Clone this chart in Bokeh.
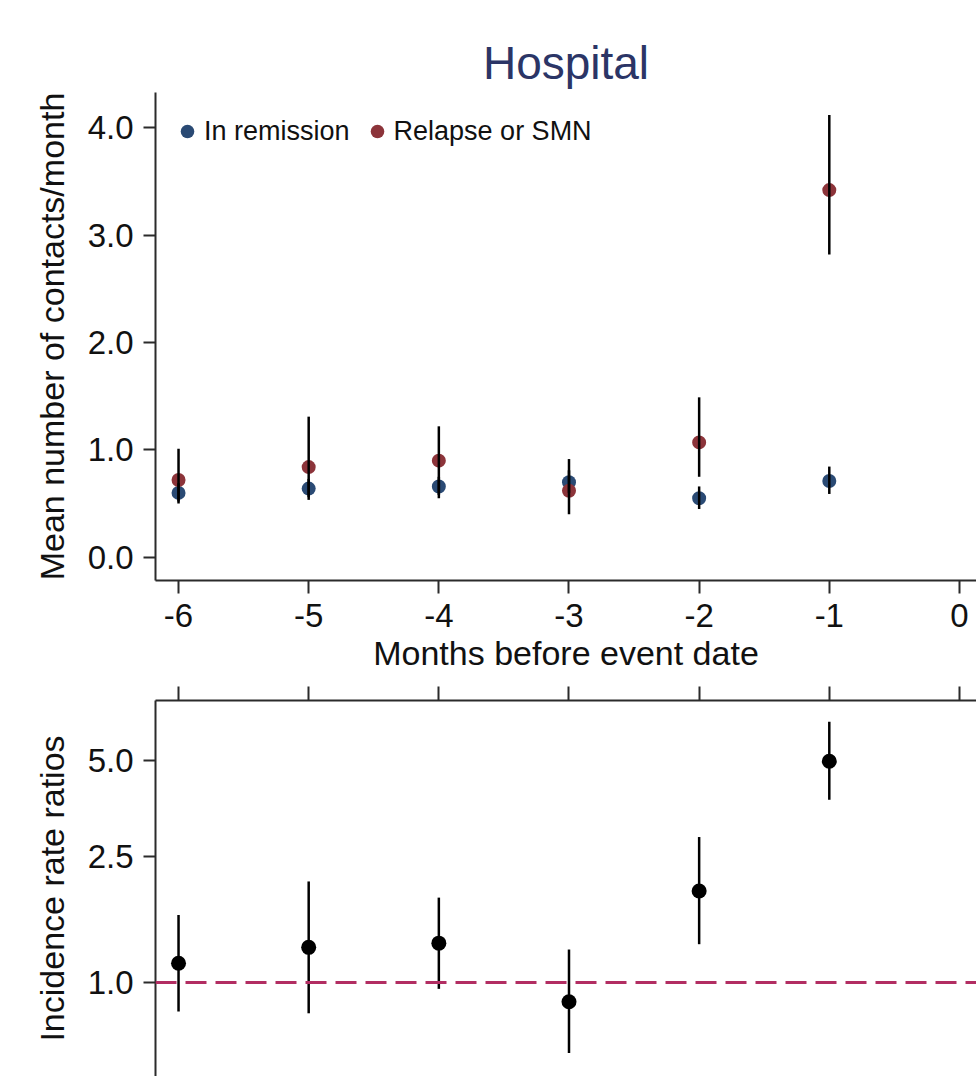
from bokeh.plotting import figure
from bokeh.layouts import column
from bokeh.models import (ColumnDataSource, Range1d, FixedTicker, NumeralTickFormatter,
                          Legend, LegendItem, Span, Title)
from bokeh.embed import file_html
from bokeh.resources import INLINE

# ---------------- data ----------------
months = [-6, -5, -4, -3, -2, -1]
x_ticks = [-6, -5, -4, -3, -2, -1, 0]
x_tick_labels = ["-6", "-5", "-4", "-3", "-2", "-1", "0"]

remission_mean = [0.60, 0.64, 0.66, 0.70, 0.55, 0.71]
remission_lo = [0.52, 0.56, 0.58, 0.60, 0.45, 0.59]
remission_hi = [0.69, 0.73, 0.75, 0.81, 0.66, 0.845]

relapse_mean = [0.72, 0.84, 0.90, 0.62, 1.07, 3.42]
relapse_lo = [0.50, 0.535, 0.55, 0.40, 0.75, 2.82]
relapse_hi = [1.01, 1.31, 1.22, 0.915, 1.49, 4.12]

irr = [1.15, 1.29, 1.33, 0.87, 1.94, 4.97]
irr_lo = [0.81, 0.80, 0.955, 0.60, 1.32, 3.76]
irr_hi = [1.63, 2.08, 1.85, 1.27, 2.87, 6.62]

top_y_ticks = [0.0, 1.0, 2.0, 3.0, 4.0]
irr_y_ticks = [1.0, 2.5, 5.0]
reference_irr = 1.0

series_names = ["In remission", "Relapse or SMN"]

FONT = "Liberation Sans"
BLUE = "#2a4a74"
RED = "#8c343a"
AXIS_COL = "#2b2b2b"

x_range = Range1d(-6.177, 0.131)


def style_axis(ax, tick_out):
    ax.axis_line_color = AXIS_COL
    ax.axis_line_width = 2
    ax.major_tick_line_color = AXIS_COL
    ax.major_tick_line_width = 2
    ax.major_tick_out = tick_out
    ax.major_tick_in = 0
    ax.minor_tick_line_color = None
    ax.major_label_text_font = FONT
    ax.major_label_text_font_size = "33px"
    ax.major_label_text_color = "#111111"
    ax.axis_label_text_font = FONT
    ax.axis_label_text_font_size = "34px"
    ax.axis_label_text_font_style = "normal"
    ax.axis_label_text_color = "#111111"


# ---------------- top panel ----------------
p1 = figure(width=976, height=680, x_range=x_range, y_range=Range1d(-0.216, 4.329),
            output_backend="svg", toolbar_location=None,
            min_border_left=155, min_border_right=0, min_border_top=92, min_border_bottom=100)
p1.outline_line_color = None
p1.xgrid.visible = False
p1.ygrid.visible = False

p1.title = Title(text="Hospital", align="center", text_font=FONT, text_font_size="46px",
                 text_font_style="normal", text_color="#2b3566", standoff=8)

src_r = ColumnDataSource(dict(x=months, y=remission_mean, lo=remission_lo, hi=remission_hi))
src_s = ColumnDataSource(dict(x=months, y=relapse_mean, lo=relapse_lo, hi=relapse_hi))

g_blue = p1.scatter("x", "y", source=src_r, size=14, fill_color=BLUE, line_color=None)
g_red = p1.scatter("x", "y", source=src_s, size=14, fill_color=RED, line_color=None)
p1.segment("x", "lo", "x", "hi", source=src_r, line_color="black", line_width=2.5)
p1.segment("x", "lo", "x", "hi", source=src_s, line_color="black", line_width=2.5)

legend = Legend(items=[LegendItem(label=series_names[0], renderers=[g_blue]),
                       LegendItem(label=series_names[1], renderers=[g_red])],
                location="top_left", orientation="horizontal",
                glyph_width=34, glyph_height=48, label_standoff=0, spacing=10,
                padding=0, margin=15, border_line_color=None, background_fill_alpha=0,
                label_text_font=FONT, label_text_font_size="27px", label_text_color="#111111")
p1.add_layout(legend)

style_axis(p1.xaxis[0], 13)
style_axis(p1.yaxis[0], 12)

p1.xaxis.ticker = FixedTicker(ticks=x_ticks)
p1.xaxis.major_label_overrides = {t: l for t, l in zip(x_ticks, x_tick_labels)}
p1.xaxis.axis_label = "Months before event date"
p1.xaxis.major_label_standoff = 10
p1.xaxis.axis_label_standoff = 4

p1.yaxis.ticker = FixedTicker(ticks=top_y_ticks)
p1.yaxis.formatter = NumeralTickFormatter(format="0.0")
p1.yaxis.axis_label = "Mean number of contacts/month"
p1.yaxis.major_label_standoff = 10
p1.yaxis.axis_label_standoff = 14

# ---------------- bottom panel ----------------
p2 = figure(width=976, height=396, x_range=x_range, y_range=Range1d(0.506, 7.72),
            y_axis_type="log", x_axis_location="above",
            output_backend="svg", toolbar_location=None,
            min_border_left=155, min_border_right=0, min_border_top=20, min_border_bottom=0)
p2.outline_line_color = None
p2.xgrid.visible = False
p2.ygrid.visible = False

p2.add_layout(Span(location=reference_irr, dimension="width", line_color="#b22d62",
                   line_width=3, line_dash="21 9"))

src_i = ColumnDataSource(dict(x=months, y=irr, lo=irr_lo, hi=irr_hi))
p2.segment("x", "lo", "x", "hi", source=src_i, line_color="black", line_width=2.5)
p2.scatter("x", "y", source=src_i, size=15, fill_color="black", line_color=None)

style_axis(p2.xaxis[0], 14)
style_axis(p2.yaxis[0], 12)

p2.xaxis.ticker = FixedTicker(ticks=x_ticks)
p2.xaxis.major_label_text_font_size = "1px"
p2.xaxis.major_label_text_color = None
p2.xaxis.major_label_standoff = 0

p2.yaxis.ticker = FixedTicker(ticks=irr_y_ticks)
p2.yaxis.formatter = NumeralTickFormatter(format="0.0")
p2.yaxis.axis_label = "Incidence rate ratios"
p2.yaxis.major_label_standoff = 10
p2.yaxis.axis_label_standoff = 14

layout = column(p1, p2, spacing=0)
open("out.html", "w").write(file_html(layout, INLINE))
